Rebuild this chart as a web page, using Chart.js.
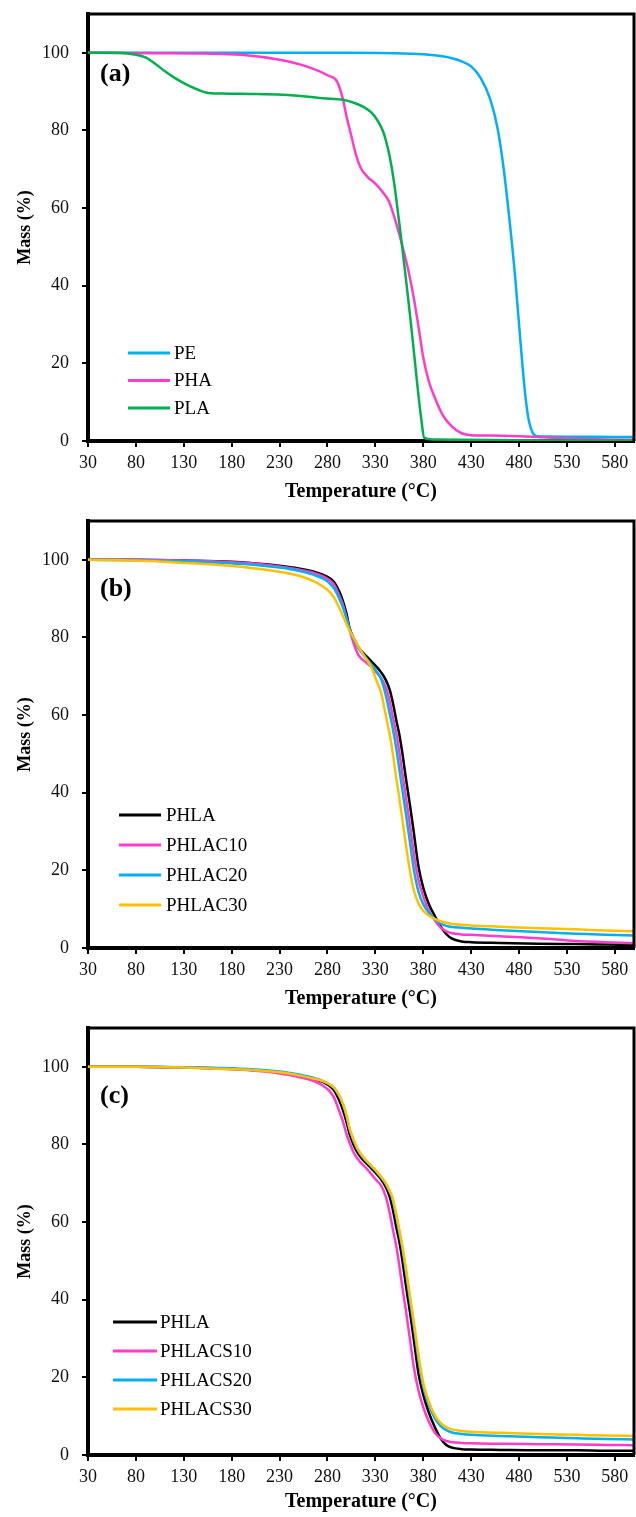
<!DOCTYPE html>
<html><head><meta charset="utf-8">
<script src="https://cdn.jsdelivr.net/npm/chart.js@4.4.1/dist/chart.umd.min.js"></script>
<style>
html,body{margin:0;padding:0;background:#fff;}
.panel{position:relative;width:636px;}
#p1{height:507px;} #p2{height:507px;} #p3{height:503px;}
</style></head><body>
<div class="panel" id="p1"><canvas id="c1"></canvas></div>
<div class="panel" id="p2"><canvas id="c2"></canvas></div>
<div class="panel" id="p3"><canvas id="c3"></canvas></div>
<script>
// ---------- axes ----------
const xTicks = [30,80,130,180,230,280,330,380,430,480,530,580];
const yTicks = [0,20,40,60,80,100];
const xTitle = 'Temperature (°C)';
const yTitle = 'Mass (%)';
const panelLabels = ['(a)','(b)','(c)'];

// ---------- panel (a) ----------
const namesA = ['PE','PHA','PLA'];
const tempPE = [30,100,200,300,350,380,400,410,420,430,440,450,458,464,470,476,481,486,490,494,497,500,530,560,600];
const massPE = [100,100,100,100,99.9,99.6,99.1,98.6,97.8,96.5,93.5,88,80,70,57,42,27,13,5.5,2.2,1.4,1.2,1.1,1.1,1.0];
const tempPHA = [30,100,150,190,230,258,281,290,296,300,305,310,315,322,330,338,344,350,355,360,365,370,375,380,386,393,400,410,420,430,450,480,510,540,570,600];
const massPHA = [100,99.9,99.8,99.5,98.2,96.5,94.1,92.6,88.2,83.5,78.5,73.5,70.2,68,66.3,64,61.8,57.5,53.2,48.5,43.3,37,29.5,21.5,15.2,10.6,6.8,3.7,2.0,1.5,1.4,1.2,0.9,0.6,0.4,0.3];
const tempPLA = [30,60,80,90,100,110,120,130,140,153,170,200,233,260,275,296,309,318,326,333,338,341,345,350,354,358,362,366,370,374,378,381,390,420,480,600];
const massPLA = [100,100,99.5,98.8,97.2,95.3,93.6,92.2,91.0,89.8,89.5,89.4,89.2,88.7,88.3,87.9,87.0,86.0,84.6,82.3,79.8,77.4,73.2,65.8,58.0,50.0,41.5,32.8,23.5,14.0,5.5,0.8,0.4,0.3,0.2,0.1];

// ---------- panels (b) and (c): common temperature grid ----------
const tempBC = [30,80,130,180,200,230,250,265,275,282,287,292,296,300,303,308,313,320,326,331,336,341,345,348,352,355,358,362,366,370,375,380,386,392,398,404,410,420,430,460,500,540,570,600];

const namesB = ['PHLA','PHLAC10','PHLAC20','PHLAC30'];
const massB_PHLA = [100,100,99.8,99.5,99.2,98.5,97.8,97.0,96.2,95.3,94.2,92.0,89.5,86.0,82.5,79.5,77.2,75.3,73.8,72.5,71.0,69.0,66.5,63.5,58.5,55.0,50.5,43.5,37.0,30.0,21.0,15.5,11.2,8.3,5.6,3.6,2.4,1.7,1.5,1.3,1.1,1.0,0.9,0.8];
const massB_C10 = [100,100,99.8,99.4,99.1,98.3,97.5,96.7,95.8,94.8,93.5,91.0,88.5,85.0,82.0,78.0,75.2,73.6,72.4,71.0,69.6,67.1,63.5,59.8,55.0,50.5,45.3,38.6,31.8,24.6,17.5,13.3,9.6,7.2,5.3,4.3,3.8,3.5,3.4,3.0,2.5,1.8,1.5,1.2];
const massB_C20 = [100,99.9,99.6,99.1,98.8,98.0,97.2,96.2,95.2,94.0,92.6,90.2,87.8,84.8,82.2,79.4,77.0,74.8,73.0,71.3,69.3,65.0,60.4,56.8,51.2,46.1,41.0,34.4,27.5,20.5,14.5,11.3,9.0,7.5,6.3,5.7,5.4,5.2,5.0,4.6,4.1,3.7,3.4,3.2];
const massB_C30 = [100,99.8,99.2,98.4,97.9,96.9,95.9,94.6,93.2,91.8,90.2,87.8,85.6,83.4,81.8,79.6,77.4,74.6,72.2,69.0,65.8,59.8,55.0,50.5,43.5,38.6,33.5,26.4,20.0,15.0,11.5,9.6,8.3,7.5,6.9,6.5,6.2,6.0,5.8,5.5,5.1,4.8,4.5,4.3];

const namesC = ['PHLA','PHLACS10','PHLACS20','PHLACS30'];
const massC_PHLA = [100,100,99.8,99.5,99.2,98.6,97.8,97.0,96.1,95.1,93.9,91.5,89.0,85.7,82.7,79.5,77.3,75.3,73.8,72.5,71.0,69.0,66.5,63.5,58.5,55.0,50.5,43.5,37.0,30.0,21.0,15.5,10.8,7.2,4.3,2.6,1.9,1.5,1.4,1.3,1.2,1.2,1.1,1.1];
const massC_CS10 = [100,100,99.8,99.4,99.1,98.3,97.4,96.4,95.2,93.8,92.0,88.8,86.0,82.5,80.5,77.6,75.8,74.0,72.3,70.8,69.4,66.5,62.3,58.5,53.5,48.8,43.5,37.0,30.0,22.8,16.6,12.3,8.5,5.8,4.3,3.6,3.3,3.1,3.0,2.9,2.8,2.7,2.6,2.5];
const massC_CS20 = [100,100,99.9,99.6,99.4,98.8,98.0,97.2,96.4,95.5,94.5,92.6,90.4,87.2,84.0,80.5,78.0,75.8,74.3,73.0,71.5,69.8,67.8,65.8,61.2,57.3,53.5,47.0,40.2,33.5,24.6,17.6,12.8,9.5,7.5,6.4,5.8,5.4,5.2,4.9,4.6,4.3,4.1,4.0];
const massC_CS30 = [100,100,99.8,99.4,99.2,98.6,97.8,97.0,96.3,95.5,94.6,92.8,90.6,87.5,84.3,80.8,78.2,76.0,74.5,73.2,71.7,70.0,68.0,66.2,61.8,58.0,54.2,48.0,41.2,34.6,25.8,18.6,13.6,10.3,8.3,7.2,6.6,6.2,6.0,5.7,5.4,5.2,5.0,4.9];

// ---------- styles ----------
const colorsA = ['#00B0F0','#FF3BCB','#00B050'];
const colorsBC = ['#000000','#FF3BCB','#00B0F0','#FFC000'];
const FONT = "'Liberation Serif','Times New Roman',serif";

function pts(t, m){ return t.map((v,i)=>({x:v, y:m[i]})); }

const framePlugin = {
  id:'frame',
  afterDatasetsDraw(chart){
    const {ctx, chartArea:a} = chart;
    ctx.save();
    ctx.strokeStyle = '#000'; ctx.lineWidth = 3;
    ctx.beginPath();
    ctx.moveTo(a.left, a.top); ctx.lineTo(a.right, a.top); ctx.lineTo(a.right, a.bottom);
    ctx.stroke();
    ctx.restore();
  }
};
const labelPlugin = {
  id:'panelLabel',
  afterDraw(chart, args, o){
    const {ctx, chartArea:a, scales} = chart;
    ctx.save();
    ctx.font = `bold ${o.size}px ${FONT}`;
    ctx.fillStyle = '#000';
    ctx.textBaseline = 'middle'; ctx.textAlign = 'left';
    ctx.fillText(o.text, a.left + o.dx, scales.y.getPixelForValue(o.yValue));
    ctx.restore();
  }
};
const legendPlugin = {
  id:'insideLegend',
  afterDraw(chart, args, o){
    const {ctx, chartArea:a} = chart;
    ctx.save();
    ctx.font = `${o.size}px ${FONT}`;
    ctx.fillStyle = '#000';
    ctx.textBaseline = 'middle'; ctx.textAlign = 'left';
    chart.data.datasets.forEach((ds,i)=>{
      const y = a.bottom - o.bottom + i*o.spacing;
      const x0 = a.left + o.left;
      ctx.strokeStyle = ds.borderColor; ctx.lineWidth = 3;
      ctx.beginPath(); ctx.moveTo(x0, y); ctx.lineTo(x0 + o.lineLen, y); ctx.stroke();
      ctx.fillText(ds.label, x0 + o.lineLen + o.gap, y + 1);
    });
    ctx.restore();
  }
};

function makeChart(id, datasets, label, labelY, legend){
  return new Chart(document.getElementById(id), {
    type:'scatter',
    data:{datasets},
    plugins:[framePlugin, labelPlugin, legendPlugin],
    options:{
      responsive:true, maintainAspectRatio:false, animation:false, devicePixelRatio:1,
      layout:{padding:{top:14, right:2, left:0, bottom:0}},
      elements:{point:{radius:0, hoverRadius:0}},
      plugins:{
        legend:{display:false}, tooltip:{enabled:false},
        panelLabel:{text:label, size:26, dx:12, yValue:labelY},
        insideLegend:legend
      },
      scales:{
        x:{
          type:'linear', min:30, max:600,
          afterBuildTicks(s){ s.ticks = xTicks.map(v=>({value:v})); },
          afterFit(s){ s.height = s.chart.height - 441; s.paddingLeft = 0; s.paddingRight = 0; },
          ticks:{font:{family:FONT, size:18}, color:'#111', padding:5, maxRotation:0, autoSkip:false},
          grid:{display:true, drawOnChartArea:false, drawTicks:true, tickLength:6, color:'#000', lineWidth:2},
          border:{display:true, color:'#000', width:4},
          title:{display:true, text:xTitle, font:{family:FONT, size:20, weight:'bold'}, color:'#000', padding:{top:0, bottom:3}}
        },
        y:{
          type:'linear', min:0, max:110,
          afterBuildTicks(s){ s.ticks = yTicks.map(v=>({value:v})); },
          afterFit(s){ s.width = 88; s.paddingTop = 0; s.paddingBottom = 0; },
          ticks:{font:{family:FONT, size:18}, color:'#111', padding:13},
          grid:{display:true, drawOnChartArea:false, drawTicks:true, tickLength:6, color:'#000', lineWidth:2},
          border:{display:true, color:'#000', width:4},
          title:{display:true, text:yTitle, font:{family:FONT, size:18, weight:'bold'}, color:'#000', padding:{top:15, bottom:0}}
        }
      }
    }
  });
}

function ds(label, t, m, color, order){
  return {label, data:pts(t,m), showLine:true, borderColor:color, backgroundColor:color,
    borderWidth:2.5, pointRadius:0, cubicInterpolationMode:'monotone', fill:false, order};
}

makeChart('c1', [
  ds(namesA[0], tempPE, massPE, colorsA[0], 2),
  ds(namesA[1], tempPHA, massPHA, colorsA[1], 1),
  ds(namesA[2], tempPLA, massPLA, colorsA[2], 0)
], panelLabels[0], 94.5, {size:19, left:40, bottom:88, spacing:27.5, lineLen:42, gap:4});

makeChart('c2', [
  ds(namesB[0], tempBC, massB_PHLA, colorsBC[0], 3),
  ds(namesB[1], tempBC, massB_C10, colorsBC[1], 2),
  ds(namesB[2], tempBC, massB_C20, colorsBC[2], 1),
  ds(namesB[3], tempBC, massB_C30, colorsBC[3], 0)
], panelLabels[1], 92.5, {size:19, left:31, bottom:133, spacing:30, lineLen:42, gap:5});

makeChart('c3', [
  ds(namesC[0], tempBC, massC_PHLA, colorsBC[0], 3),
  ds(namesC[1], tempBC, massC_CS10, colorsBC[1], 2),
  ds(namesC[2], tempBC, massC_CS20, colorsBC[2], 1),
  ds(namesC[3], tempBC, massC_CS30, colorsBC[3], 0)
], panelLabels[2], 92.5, {size:19, left:25, bottom:133, spacing:29, lineLen:44, gap:3});
</script>
</body></html>
